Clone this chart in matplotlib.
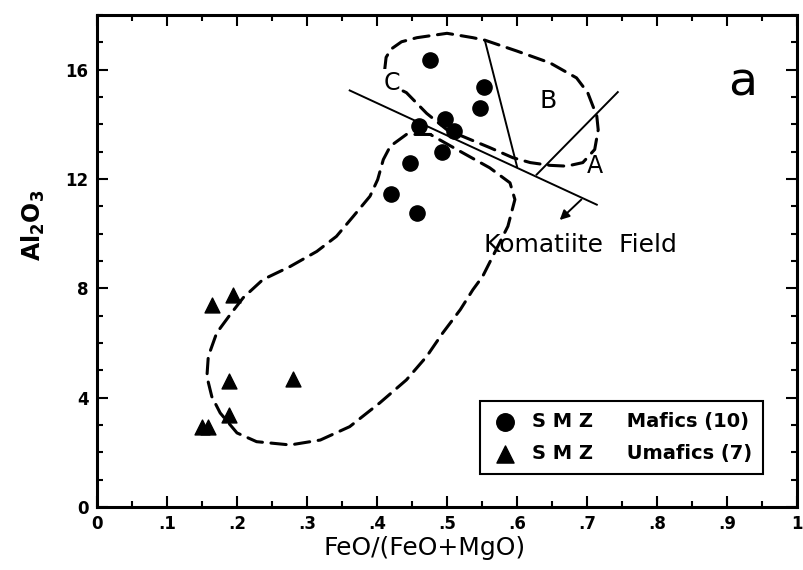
import numpy as np
import matplotlib
matplotlib.use("Agg")
import matplotlib.pyplot as plt
from matplotlib.ticker import MultipleLocator

# SMZ mafic samples (circles)
mafic_x = [0.476, 0.553, 0.547, 0.497, 0.460, 0.510, 0.493, 0.447, 0.420, 0.457]
mafic_y = [16.35, 15.35, 14.60, 14.20, 13.93, 13.75, 13.00, 12.60, 11.45, 10.77]

# SMZ ultramafic samples (triangles)
umafic_x = [0.164, 0.195, 0.189, 0.280, 0.189, 0.150, 0.159]
umafic_y = [7.40, 7.77, 4.60, 4.70, 3.37, 2.93, 2.93]

# upper dashed field (C / B / A)
upper_x = [0.411, 0.413, 0.420, 0.435, 0.457, 0.500, 0.537, 0.554, 0.600, 0.647,
           0.685, 0.701, 0.714, 0.716, 0.711, 0.694, 0.671, 0.647, 0.619, 0.594,
           0.561, 0.528, 0.500, 0.471, 0.442, 0.423, 0.413, 0.411]
upper_y = [16.00, 16.45, 16.75, 17.02, 17.17, 17.33, 17.17, 17.08, 16.68, 16.25,
           15.70, 15.16, 14.30, 13.80, 13.08, 12.60, 12.47, 12.50, 12.60, 12.78,
           13.15, 13.50, 13.80, 14.40, 15.16, 15.40, 15.70, 16.00]

# lower dashed field
lower_x = [0.476, 0.442, 0.419, 0.409, 0.401, 0.390, 0.366, 0.342, 0.314, 0.276,
           0.237, 0.209, 0.190, 0.171, 0.159, 0.157, 0.164, 0.176, 0.200, 0.228,
           0.276, 0.319, 0.361, 0.404, 0.442, 0.471, 0.494, 0.519, 0.537, 0.551,
           0.587, 0.597, 0.590, 0.561, 0.514, 0.476]
lower_y = [13.63, 13.63, 13.20, 12.71, 11.98, 11.37, 10.63, 9.90, 9.35, 8.80,
           8.32, 7.66, 7.03, 6.37, 5.51, 4.77, 4.04, 3.44, 2.71, 2.39,
           2.27, 2.45, 2.94, 3.81, 4.65, 5.51, 6.37, 7.22, 7.95, 8.44,
           10.27, 11.25, 11.86, 12.41, 13.08, 13.63]

# solid boundary lines
komatiite_line = ([0.361, 0.714], [15.24, 11.06])
bc_line = ([0.554, 0.600], [17.08, 12.46])
ab_line = ([0.744, 0.628], [15.18, 12.16])

x_ticks = [0, 0.1, 0.2, 0.3, 0.4, 0.5, 0.6, 0.7, 0.8, 0.9, 1.0]
x_tick_labels = ['0', '.1', '.2', '.3', '.4', '.5', '.6', '.7', '.8', '.9', '1']
y_ticks = [0, 4, 8, 12, 16]

fig = plt.figure(figsize=(8.04, 5.70), dpi=100)
ax = fig.add_axes([97 / 804, 63 / 570, 700 / 804, 492 / 570])

# dashed fields
dash = dict(color='black', linewidth=2.2, dashes=(5, 2.8), solid_joinstyle='round',
            dash_capstyle='round')
ax.plot(upper_x, upper_y, **dash)
ax.plot(lower_x, lower_y, **dash)

# boundary lines
ax.plot(*komatiite_line, color='black', linewidth=1.4)
ax.plot(*bc_line, color='black', linewidth=1.4)
ax.plot(*ab_line, color='black', linewidth=1.4)

# arrow pointing into the komatiite field
ax.annotate('', xy=(0.661, 10.5), xytext=(0.692, 11.25),
            arrowprops=dict(arrowstyle='-|>', color='black', lw=1.4,
                            mutation_scale=14, shrinkA=0, shrinkB=0))

# samples
ax.scatter(mafic_x, mafic_y, s=120, marker='o', color='black', zorder=5,
           label='S M Z     Mafics (10)')
ax.scatter(umafic_x, umafic_y, s=115, marker='^', color='black', zorder=5,
           label='S M Z     Umafics (7)')

# field labels
ax.text(0.421, 15.52, 'C', fontsize=17, ha='center', va='center',
        bbox=dict(facecolor='white', edgecolor='none', pad=1))
ax.text(0.645, 14.85, 'B', fontsize=18, ha='center', va='center')
ax.text(0.711, 12.47, 'A', fontsize=17, ha='center', va='center')
ax.text(0.553, 9.6, 'Komatiite  Field', fontsize=18, ha='left', va='center')
ax.text(0.923, 15.5, 'a', fontsize=34, ha='center', va='center')

# axes, ticks
ax.set_xlim(0, 1)
ax.set_ylim(0, 18)
ax.set_xticks(x_ticks)
ax.set_xticklabels(x_tick_labels)
ax.set_yticks(y_ticks)
ax.xaxis.set_minor_locator(MultipleLocator(0.05))
ax.yaxis.set_minor_locator(MultipleLocator(1))
ax.tick_params(which='both', direction='in', top=True, right=True, width=1.5)
ax.tick_params(which='major', length=8, labelsize=12, pad=6)
ax.tick_params(which='minor', length=4)
for lab in ax.get_xticklabels() + ax.get_yticklabels():
    lab.set_fontweight('bold')
for sp in ax.spines.values():
    sp.set_linewidth(2.2)

ax.set_xlabel('FeO/(FeO+MgO)', fontsize=18)
ax.xaxis.set_label_coords(0.468, -0.058)
ax.set_ylabel(r'$\mathbf{Al_2O_3}$', fontsize=17)
ax.yaxis.set_label_coords(-0.071, 0.573)

leg = ax.legend(loc='lower left', bbox_to_anchor=(0.547, 0.067), borderaxespad=0,
                fancybox=False, edgecolor='black', framealpha=1,
                prop={'size': 14, 'weight': 'bold'}, handletextpad=0.7,
                handlelength=1.4, borderpad=0.58, labelspacing=0.65,
                markerscale=1.15)
leg.get_frame().set_linewidth(1.5)

plt.savefig('out.png', dpi=100)
